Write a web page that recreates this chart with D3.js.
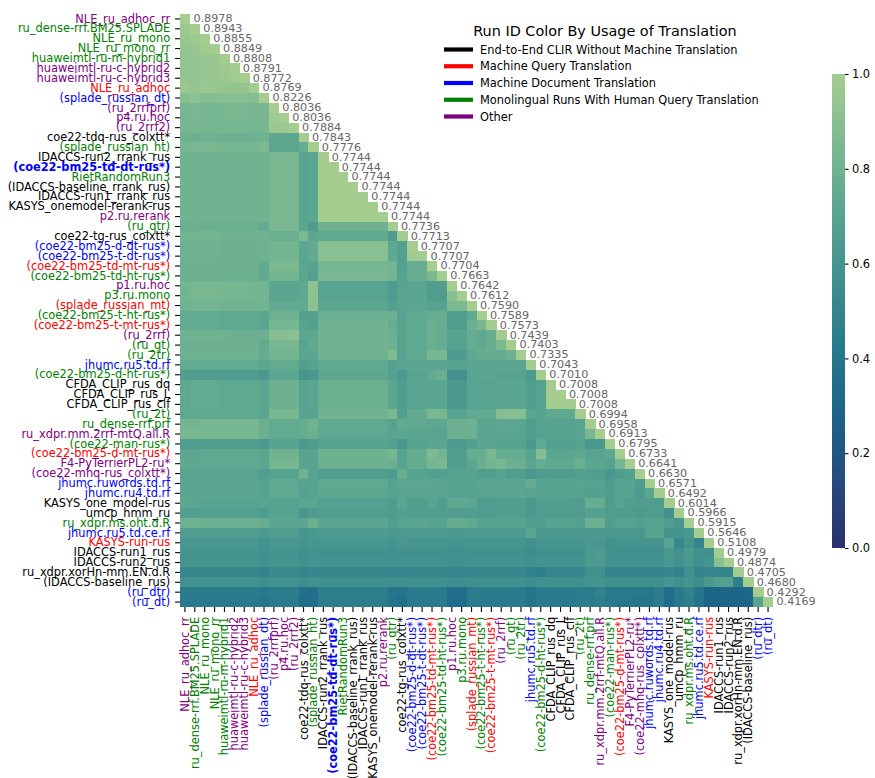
<!DOCTYPE html>
<html><head><meta charset="utf-8">
<script src="https://cdn.jsdelivr.net/npm/d3@7"></script>
<style>body{margin:0;background:#fff} text{font-family:"DejaVu Sans",sans-serif}</style>
</head><body><svg id="chart" width="875" height="778"></svg>
<script>
const runs = ["NLE_ru_adhoc_rr","ru_dense-rrf.BM25.SPLADE","NLE_ru_mono","NLE_ru_mono_rr","huaweimtl-ru-m-hybrid1","huaweimtl-ru-c-hybrid2","huaweimtl-ru-c-hybrid3","NLE_ru_adhoc","(splade_russian_dt)","(ru_2rrfprf)","p4.ru.hoc","(ru_2rrf2)","coe22-tdq-rus_colxtt*","(splade_russian_ht)","IDACCS-run2_rrank_rus","(coe22-bm25-td-dt-rus*)","RietRandomRun3","(IDACCS-baseline_rrank_rus)","IDACCS-run1_rrank_rus","KASYS_onemodel-rerank-rus","p2.ru.rerank","(ru_qtr)","coe22-tg-rus_colxtt*","(coe22-bm25-d-dt-rus*)","(coe22-bm25-t-dt-rus*)","(coe22-bm25-td-mt-rus*)","(coe22-bm25-td-ht-rus*)","p1.ru.hoc","p3.ru.mono","(splade_russian_mt)","(coe22-bm25-t-ht-rus*)","(coe22-bm25-t-mt-rus*)","(ru_2rrf)","(ru_qt)","(ru_2tr)","jhumc.ru5.td.rf","(coe22-bm25-d-ht-rus*)","CFDA_CLIP_rus_dq","CFDA_CLIP_rus_L","CFDA_CLIP_rus_clf","(ru_2t)","ru_dense-rrf.prf","ru_xdpr.mm.2rrf-mtQ.all.R","(coe22-man-rus*)","(coe22-bm25-d-mt-rus*)","F4-PyTerrierPL2-ru*","(coe22-mhq-rus_colxtt*)","jhumc.ruwords.td.rf","jhumc.ru4.td.rf","KASYS_one_model-rus","umcp_hmm_ru","ru_xdpr.ms.oht.d.R","jhumc.ru5.td.ce.rf","KASYS-run-rus","IDACCS-run1_rus","IDACCS-run2_rus","ru_xdpr.xorHn-mm.EN.d.R","(IDACCS-baseline_rus)","(ru_dtr)","(ru_dt)"];

const runGroups = ["p","g","g","g","g","p","p","r","b","p","p","p","k","g","k","b","g","k","k","k","p","g","k","b","b","r","g","p","g","r","g","r","p","g","g","b","g","k","k","k","g","g","p","g","r","p","p","b","b","k","k","g","b","r","k","k","k","k","b","b"];

const boldRuns = ["(coe22-bm25-td-dt-rus*)"];

const scores = [0.8978,0.8943,0.8855,0.8849,0.8808,0.8791,0.8772,0.8769,0.8226,0.8036,0.8036,0.7884,0.7843,0.7776,0.7744,0.7744,0.7744,0.7744,0.7744,0.7744,0.7744,0.7736,0.7713,0.7707,0.7707,0.7704,0.7663,0.7642,0.7612,0.7590,0.7589,0.7573,0.7439,0.7403,0.7335,0.7043,0.7010,0.7008,0.7008,0.7008,0.6994,0.6958,0.6913,0.6795,0.6733,0.6641,0.6630,0.6571,0.6492,0.6014,0.5966,0.5915,0.5646,0.5108,0.4979,0.4874,0.4705,0.4680,0.4292,0.4169];

// lower-triangle correlation values (percent), row i has columns 0..i
const corrRows = [
[100],
[96,100],
[95,96,100],
[94,95,98,100],
[94,94,95,95,100],
[94,94,95,95,97,100],
[94,93,95,95,96,98,100],
[96,94,96,95,94,94,94,100],
[89,91,89,89,90,90,90,89,100],
[83,84,83,83,84,84,84,83,84,100],
[83,84,83,83,84,84,84,83,84,98,100],
[83,83,83,83,83,83,83,82,83,96,96,100],
[80,79,80,80,79,79,79,80,80,73,73,73,100],
[83,84,84,84,83,83,83,83,86,73,73,73,76,100],
[81,80,81,81,81,81,81,81,81,84,84,84,71,72,100],
[81,80,81,81,81,81,81,81,81,84,84,84,71,72,100,100],
[81,80,81,81,81,81,81,81,81,84,84,84,71,72,100,100,100],
[81,80,81,81,81,81,81,81,81,84,84,84,71,72,100,100,100,100],
[81,80,81,81,81,81,81,81,81,84,84,84,71,72,100,100,100,100,100],
[81,80,81,81,81,81,81,81,81,84,84,84,71,72,100,100,100,100,100,100],
[81,80,81,81,81,81,81,81,81,84,84,84,71,72,100,100,100,100,100,100,100],
[79,79,78,78,78,78,78,78,75,84,84,84,72,66,80,80,80,80,80,80,80,100],
[82,82,82,82,81,81,81,81,81,78,78,78,85,73,74,74,74,74,74,74,74,66,100],
[80,80,80,80,79,79,79,79,80,82,82,82,72,75,90,90,90,90,90,90,90,74,68,100],
[80,80,80,80,79,79,79,79,80,82,82,82,72,75,90,90,90,90,90,90,90,74,68,98,100],
[79,79,79,79,79,79,79,79,75,85,85,85,72,70,83,83,83,83,83,83,83,82,68,76,76,100],
[79,79,79,79,78,78,78,78,74,82,82,82,72,68,84,84,84,84,84,84,84,82,70,77,77,85,100],
[82,84,84,84,83,83,83,82,82,72,72,72,74,92,71,71,71,71,71,71,71,65,70,72,72,67,67,100],
[82,84,84,84,83,83,83,82,82,72,72,72,74,92,71,71,71,71,71,71,71,65,71,72,72,66,66,90,100],
[81,82,82,82,81,81,81,81,82,75,75,75,75,91,73,73,73,73,73,73,73,68,71,72,72,70,70,85,85,100],
[75,75,75,75,74,74,74,74,72,80,80,80,69,69,79,79,79,79,79,79,79,79,70,74,74,76,77,66,66,74,100],
[75,75,75,75,74,74,74,74,72,83,83,83,70,69,81,81,81,81,81,81,81,76,70,74,74,79,76,66,66,79,84,100],
[80,80,80,80,80,79,79,79,79,89,89,91,72,73,81,81,81,81,81,81,81,79,70,74,74,79,76,70,70,76,74,77,100],
[79,79,79,79,79,79,79,79,75,84,84,84,70,74,81,81,81,81,81,81,81,80,70,74,74,79,76,70,70,76,74,77,85,100],
[80,80,80,80,80,80,80,80,76,82,82,82,72,72,81,81,81,81,81,81,81,87,70,74,74,83,84,65,65,74,76,76,76,79,100],
[75,75,75,75,75,75,75,75,72,75,75,75,67,70,74,74,74,74,74,74,74,68,71,72,72,72,72,70,70,72,72,72,72,72,72,100],
[66,66,66,66,66,66,66,66,62,72,72,72,60,62,73,73,73,73,73,73,73,69,64,71,71,75,78,58,58,71,72,72,71,71,71,64,100],
[74,75,75,75,74,74,74,74,72,79,79,79,70,72,78,78,78,78,78,78,78,72,67,71,71,72,72,64,64,71,71,71,72,72,72,67,70,100],
[74,75,75,75,74,74,74,74,72,79,79,79,70,72,78,78,78,78,78,78,78,72,67,71,71,72,72,64,64,71,71,71,72,72,72,67,70,100,100],
[74,75,75,75,74,74,74,74,72,79,79,79,70,72,78,78,78,78,78,78,78,72,67,71,71,72,72,64,64,71,71,71,72,72,72,67,70,100,100,100],
[74,74,74,74,74,74,74,74,72,84,84,84,70,70,81,81,81,81,81,81,81,85,68,75,75,84,84,70,70,74,75,75,88,90,89,72,70,74,74,74,100],
[82,82,84,84,84,84,84,84,79,75,75,75,77,81,74,74,74,74,74,74,74,70,75,74,74,73,73,79,79,80,72,72,73,73,72,67,70,70,70,70,71,100],
[84,84,83,83,83,83,83,83,79,75,75,75,76,79,74,74,74,74,74,74,74,71,72,72,72,71,71,79,79,79,71,71,72,72,71,67,69,70,70,70,71,84,100],
[66,66,66,66,66,66,66,66,63,70,70,70,63,66,70,70,70,70,70,70,70,68,62,70,70,72,72,65,65,68,72,72,70,70,70,64,74,68,68,68,70,63,63,100],
[73,73,74,74,74,74,74,74,72,81,81,81,71,70,80,80,80,80,80,80,80,83,70,76,76,86,82,67,67,76,77,84,76,76,76,70,88,72,72,72,74,71,71,73,100],
[74,74,74,74,74,74,74,74,72,83,83,83,71,70,79,79,79,79,79,79,79,79,70,76,76,83,84,67,67,73,78,82,84,79,79,72,76,74,74,74,79,72,72,70,83,100],
[71,71,71,71,71,71,71,71,67,70,70,70,80,70,67,67,67,67,67,67,67,65,77,70,70,68,68,70,70,70,67,67,70,67,67,62,65,66,66,66,68,67,67,62,66,68,100],
[72,72,72,72,72,72,72,72,70,74,74,74,71,70,74,74,74,74,74,74,74,70,72,73,73,72,72,70,70,70,72,72,72,72,72,76,70,70,70,70,71,70,70,66,70,70,66,100],
[72,72,72,72,72,72,72,72,70,74,74,74,69,70,73,73,73,73,73,73,73,70,71,72,72,71,71,70,70,70,71,71,72,72,72,71,70,70,70,70,70,69,69,66,70,70,65,72,100],
[73,72,70,70,70,70,70,70,71,70,70,70,72,72,68,68,68,68,68,68,68,66,72,67,67,70,66,74,74,72,66,66,67,67,67,64,67,67,67,67,66,77,77,66,70,67,66,67,66,100],
[68,68,68,68,68,68,68,68,65,70,70,70,62,66,67,67,67,67,67,67,67,66,68,67,67,67,66,67,67,67,66,66,67,67,67,64,66,66,66,66,66,69,69,65,66,66,64,66,66,58,100],
[80,80,79,79,79,79,79,79,77,72,72,72,72,78,72,72,72,72,72,72,72,67,70,72,72,70,70,76,76,74,70,70,70,70,70,67,66,70,70,70,68,79,79,67,70,70,68,70,70,66,62,100],
[66,66,66,66,66,66,66,66,63,66,66,66,61,63,65,65,65,65,65,65,65,63,64,65,65,65,65,64,64,65,65,65,65,65,65,72,64,64,64,64,64,64,64,62,64,64,62,70,70,60,60,63,100],
[61,61,61,61,61,61,61,61,58,61,61,61,60,61,61,61,61,61,61,61,61,59,62,60,60,60,60,60,60,60,60,60,60,60,60,58,60,60,60,60,60,62,62,58,60,60,60,60,60,70,52,60,50,100],
[59,59,59,59,59,59,59,59,57,59,59,59,56,59,58,58,58,58,58,58,58,57,58,58,58,58,58,57,57,58,58,58,58,58,58,56,58,58,58,58,58,63,65,58,57,57,57,57,57,63,58,64,57,57,100],
[60,60,60,60,60,60,60,60,58,60,60,60,57,60,59,59,59,59,59,59,59,58,59,59,59,59,59,58,58,59,59,59,59,59,59,57,59,59,59,59,59,64,64,58,58,58,58,58,58,62,58,62,57,60,90,100],
[52,52,52,52,52,52,52,52,49,53,53,53,50,52,52,52,52,52,52,52,52,51,51,52,52,52,52,51,51,52,52,52,52,52,52,48,46,51,51,51,52,57,57,50,50,50,50,50,50,52,48,58,50,52,50,50,100],
[58,58,58,58,58,58,58,58,56,58,58,58,56,58,57,57,57,57,57,57,57,56,57,57,57,57,57,56,56,57,57,57,57,57,57,55,57,57,57,57,57,60,60,57,57,57,57,57,57,61,57,60,56,63,68,68,47,100],
[44,44,44,44,44,44,44,44,42,45,45,45,37,36,46,46,46,46,46,46,46,40,38,44,44,44,44,35,35,45,44,44,44,44,44,40,44,44,44,44,45,45,48,43,42,42,42,41,45,35,43,48,40,30,30,30,30,31,100],
[42,42,42,42,42,42,42,42,40,43,43,43,35,35,45,45,45,45,45,45,45,38,36,43,43,43,43,33,33,43,43,43,43,43,43,38,43,43,43,43,44,44,46,42,41,41,40,40,44,33,42,46,38,29,29,29,29,30,70,100]
];

const colorbarTicks = [0.0, 0.2, 0.4, 0.6, 0.8, 1.0];
const legendTitle = "Run ID Color By Usage of Translation";
const legendLabels = ["End-to-End CLIR Without Machine Translation","Machine Query Translation","Machine Document Translation","Monolingual Runs With Human Query Translation","Other"];
const legendGroups = ["k","r","b","g","p"];

// ---------- styling ----------
const groupColor = {k:"#000000", r:"#ff0000", b:"#0000ff", g:"#008000", p:"#800080"};
const crestStops = ["#a5cd90","#7dba91","#59a590","#40908e","#287a8c","#1c6488","#254b7f","#2c2f6e"];
const color = d3.scaleLinear()
  .domain(crestStops.map((_, i) => 1 - i / (crestStops.length - 1)))
  .range(crestStops).interpolate(d3.interpolateRgb).clamp(true);

const svg = d3.select("#chart");
const L = 180, T = 14, S = 593;
const x = d3.scaleBand().domain(runs).range([L, L + S]);
const y = d3.scaleBand().domain(runs).range([T, T + S]);
const bw = x.bandwidth();
const groupOf = d3.scaleOrdinal().domain(runs).range(runGroups);
const fs = "11.4px";

const cells = [];
corrRows.forEach((row, i) => row.forEach((v, j) => cells.push({r: runs[i], c: runs[j], v: v / 100})));

svg.append("g").selectAll("rect").data(cells).join("rect")
  .attr("x", d => x(d.c)).attr("y", d => y(d.r))
  .attr("width", bw + 0.4).attr("height", bw + 0.4)
  .attr("fill", d => color(d.v))
  .attr("shape-rendering", "crispEdges");

// diagonal annotations
svg.append("g").selectAll("text").data(runs).join("text")
  .attr("x", d => x(d) + bw + 3.5)
  .attr("y", d => y(d) + bw / 2)
  .attr("dy", "0.3em")
  .attr("font-size", "11.2px")
  .attr("fill", "#666666")
  .text((d, i) => d3.format(".4f")(scores[i]));

// y axis
const gy = svg.append("g").attr("transform", `translate(${L},0)`)
  .call(d3.axisLeft(y).tickSize(4.9).tickPadding(4.9));
gy.select(".domain").remove();
gy.selectAll("line").attr("stroke", "#000").attr("stroke-width", 1.1);
gy.selectAll("text").attr("font-size", fs).attr("font-family", '"DejaVu Sans",sans-serif')
  .attr("fill", d => groupColor[groupOf(d)])
  .attr("font-weight", d => boldRuns.includes(d) ? "bold" : "normal");

// x axis
const gx = svg.append("g").attr("transform", `translate(0,${T + S})`)
  .call(d3.axisBottom(x).tickSize(4.9).tickPadding(4.9));
gx.select(".domain").remove();
gx.selectAll("line").attr("stroke", "#000").attr("stroke-width", 1.1);
gx.selectAll("text")
  .attr("transform", "rotate(-90)")
  .attr("text-anchor", "end")
  .attr("x", -9.8).attr("y", 0).attr("dy", "0.35em")
  .attr("font-size", fs).attr("font-family", '"DejaVu Sans",sans-serif')
  .attr("fill", d => groupColor[groupOf(d)])
  .attr("font-weight", d => boldRuns.includes(d) ? "bold" : "normal");

// colorbar
const cbX = 832, cbW = 13, cbT = 74, cbB = 548;
const cy = d3.scaleLinear().domain([0, 1]).range([cbB, cbT]);
const defs = svg.append("defs");
const grad = defs.append("linearGradient").attr("id", "cbgrad")
  .attr("x1", 0).attr("x2", 0).attr("y1", 1).attr("y2", 0);
d3.range(0, 1.0001, 0.02).forEach(t => grad.append("stop").attr("offset", t).attr("stop-color", color(t)));
svg.append("rect").attr("x", cbX).attr("y", cbT).attr("width", cbW).attr("height", cbB - cbT)
  .attr("fill", "url(#cbgrad)");
const gc = svg.append("g").attr("transform", `translate(${cbX + cbW},0)`)
  .call(d3.axisRight(cy).tickValues(colorbarTicks).tickFormat(d3.format(".1f")).tickSize(3.5).tickPadding(3.5));
gc.select(".domain").remove();
gc.selectAll("line").attr("stroke", "#000").attr("stroke-width", 1.1);
gc.selectAll("text").attr("font-size", fs).attr("font-family", '"DejaVu Sans",sans-serif').attr("fill", "#000");

// legend
const lg = svg.append("g");
lg.append("text").attr("x", 605).attr("y", 31).attr("dy", "0.35em")
  .attr("text-anchor", "middle").attr("font-size", "14.4px").attr("fill", "#000").text(legendTitle);
const ly = d3.scalePoint().domain(legendLabels).range([49.5, 116.5]);
const items = lg.selectAll("g.item").data(legendLabels).join("g").attr("class", "item")
  .attr("transform", d => `translate(0,${ly(d)})`);
items.append("line").attr("x1", 444).attr("x2", 473).attr("y1", 0).attr("y2", 0)
  .attr("stroke", (d, i) => groupColor[legendGroups[i]]).attr("stroke-width", 4.2);
items.append("text").attr("x", 480).attr("y", 0).attr("dy", "0.35em")
  .attr("font-size", fs).attr("fill", "#000").text(d => d);
</script></body></html>
